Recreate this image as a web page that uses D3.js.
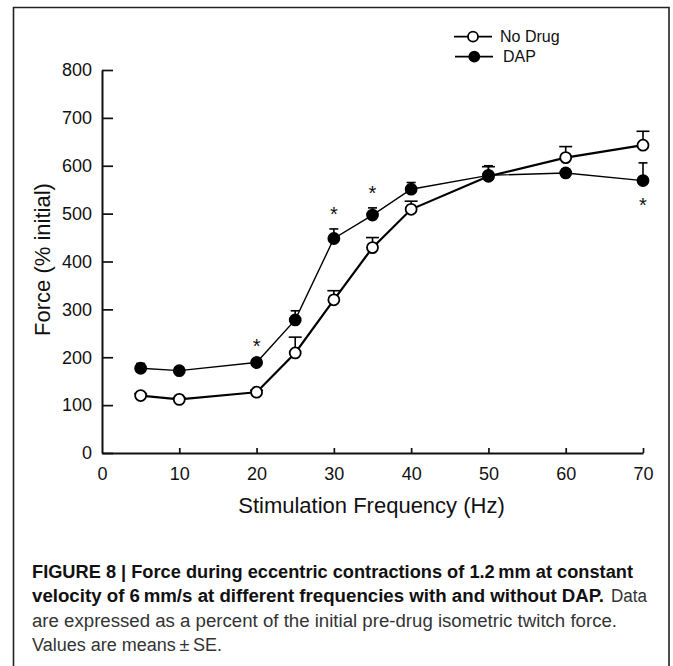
<!DOCTYPE html>
<html>
<head>
<meta charset="utf-8">
<script src="https://cdn.jsdelivr.net/npm/d3@7"></script>
<style>
  html, body { margin: 0; padding: 0; background: #fff; }
  svg { display: block; }
  text { font-family: "Liberation Sans", Arial, Helvetica, sans-serif; }
</style>
</head>
<body>
<svg id="chart" width="673" height="666"></svg>
<script>
// ---- data ----
const freq = [5, 10, 20, 25, 30, 35, 40, 50, 60, 70];
const noDrug = [120, 112, 127, 209, 320, 429, 509, 578, 617, 643];
const noDrugSE = [4, 3, 4, 33, 19, 21, 17, 20, 23, 29];
const dap = [177, 172, 189, 278, 448, 497, 551, 580, 585, 569];
const dapSE = [10, 5, 6, 19, 20, 15, 14, 20, 8, 37];
const sigFreq = [20, 30, 35, 70];
const sigForce = [231, 507, 551, 527];
const xTicks = [0, 10, 20, 30, 40, 50, 60, 70];
const yTicks = [0, 100, 200, 300, 400, 500, 600, 700, 800];
const seriesNames = ["No Drug", "DAP"];

const svg = d3.select("#chart");

// figure border (box continues beyond bottom)
svg.append("path")
  .attr("d", "M13.5,700 L13.5,7.5 L669,7.5 L669,700")
  .attr("fill", "none").attr("stroke", "#222").attr("stroke-width", 1.6);

const x = d3.scaleLinear().domain([0, 70]).range([102, 643]);
const y = d3.scaleLinear().domain([0, 800]).range([453, 70]);

// axes
const gx = svg.append("g").attr("transform", `translate(0,${y(0)})`)
  .call(d3.axisBottom(x).tickValues(xTicks).tickFormat(d3.format("d"))
    .tickSizeInner(-5).tickSizeOuter(0).tickPadding(14));
const gy = svg.append("g").attr("transform", `translate(${x(0)},0)`)
  .call(d3.axisLeft(y).tickValues(yTicks).tickFormat(d3.format("d"))
    .tickSizeInner(-11).tickSizeOuter(0).tickPadding(10));
[gx, gy].forEach(g => {
  g.attr("font-size", null).attr("font-family", null);
  g.select(".domain").attr("stroke", "#111").attr("stroke-width", 2);
  g.selectAll(".tick line").attr("stroke", "#111").attr("stroke-width", 1.7);
  g.selectAll(".tick text").attr("fill", "#111").style("font-size", "18px");
});
gx.selectAll(".tick").filter(d => d === 0).select("line").remove();

// axis titles
svg.append("text").attr("x", 371.5).attr("y", 513).attr("text-anchor", "middle")
  .attr("fill", "#111").style("font-size", "22px").text("Stimulation Frequency (Hz)");
svg.append("text").attr("transform", "translate(50,259.5) rotate(-90)")
  .attr("text-anchor", "middle").attr("fill", "#111").style("font-size", "22px")
  .text("Force (% initial)");

const series = [
  { name: seriesNames[0], vals: noDrug, se: noDrugSE, fill: "#fff", lw: 2.2, cap: 6.5 },
  { name: seriesNames[1], vals: dap, se: dapSE, fill: "#000", lw: 1.4, cap: 4.5 }
];

const line = d3.line().x(d => x(d[0])).y(d => y(d[1]));

// lines
series.forEach(s => {
  svg.append("path").datum(freq.map((f, i) => [f, s.vals[i]]))
    .attr("d", line).attr("fill", "none").attr("stroke", "#000")
    .attr("stroke-width", s.lw);
});
// error bars
series.forEach(s => {
  const g = svg.append("g").attr("stroke", "#000").attr("stroke-width", 1.6);
  freq.forEach((f, i) => {
    const top = y(s.vals[i] + s.se[i]);
    g.append("line").attr("x1", x(f)).attr("x2", x(f))
      .attr("y1", y(s.vals[i])).attr("y2", top);
    g.append("line").attr("x1", x(f) - s.cap).attr("x2", x(f) + s.cap)
      .attr("y1", top).attr("y2", top);
  });
});
// markers
series.forEach(s => {
  svg.append("g").selectAll("circle").data(freq.map((f, i) => [f, s.vals[i]]))
    .join("circle").attr("cx", d => x(d[0])).attr("cy", d => y(d[1]))
    .attr("r", 5.5).attr("fill", s.fill).attr("stroke", "#000").attr("stroke-width", 1.8);
});

// significance asterisks
svg.append("g").selectAll("text").data(sigFreq.map((f, i) => [f, sigForce[i]]))
  .join("text").attr("x", d => x(d[0])).attr("y", d => y(d[1]) + 11)
  .attr("text-anchor", "middle").attr("fill", "#111").style("font-size", "20px")
  .text("*");

// legend
const leg = [
  { lx1: 454, lx2: 492, cx: 473, cy: 36.7, tx: 500, ty: 42 },
  { lx1: 455, lx2: 493, cx: 474.3, cy: 56.7, tx: 503, ty: 62 }
];
series.forEach((s, i) => {
  const L = leg[i];
  svg.append("line").attr("x1", L.lx1).attr("x2", L.lx2).attr("y1", L.cy).attr("y2", L.cy)
    .attr("stroke", "#000").attr("stroke-width", 1.8);
  svg.append("circle").attr("cx", L.cx).attr("cy", L.cy).attr("r", 5)
    .attr("fill", s.fill).attr("stroke", "#000").attr("stroke-width", 1.8);
  svg.append("text").attr("x", L.tx).attr("y", L.ty).attr("fill", "#111")
    .style("font-size", "16px").text(s.name);
});

// caption
const cap = [
  { t: "FIGURE 8 | Force during eccentric contractions of 1.2\u2009mm at constant", x: 32, w: 601, y: 577.5, b: true },
  { t: "velocity of 6\u2009mm/s at different frequencies with and without DAP.", x: 32, w: 572, y: 602, b: true },
  { t: "Data", x: 611, w: 36, y: 602, b: false },
  { t: "are expressed as a percent of the initial pre-drug isometric twitch force.", x: 32, w: 585, y: 626.5, b: false },
  { t: "Values are means\u2009\u00b1\u2009SE.", x: 32, w: 190, y: 651, b: false }
];
cap.forEach(c => {
  svg.append("text").attr("x", c.x).attr("y", c.y)
    .attr("textLength", c.w).attr("lengthAdjust", "spacingAndGlyphs")
    .attr("fill", c.b ? "#111" : "#333")
    .style("font-size", "18px").style("font-weight", c.b ? "bold" : "normal")
    .text(c.t);
});
</script>
</body>
</html>
